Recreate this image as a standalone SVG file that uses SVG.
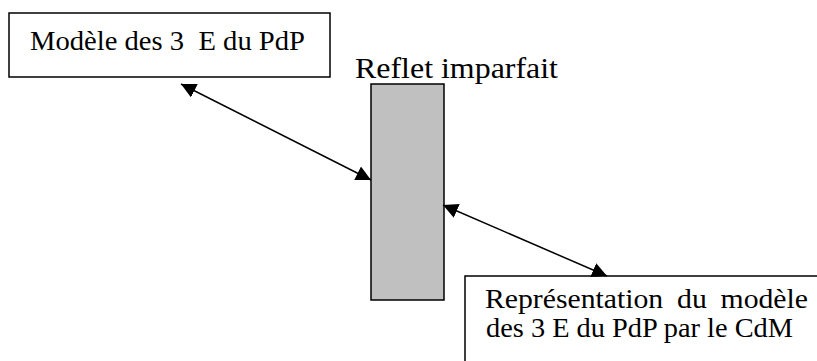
<svg xmlns="http://www.w3.org/2000/svg" width="817" height="361" viewBox="0 0 817 361">
<style>
.box{fill:#fff;stroke:#000;stroke-width:1.5}
.mirror{fill:#c0c0c0;stroke:#000;stroke-width:1.5}
.t{font-family:'Liberation Serif','Times New Roman',serif;fill:#000}
.c{stroke:#000;stroke-width:1.5;fill:none}
</style>
<defs>
<marker id="ah" viewBox="0 0 10 10" refX="10" refY="5" markerWidth="15" markerHeight="15" markerUnits="userSpaceOnUse" orient="auto-start-reverse">
<path d="M0,0 L10,5 L0,10 Z" fill="#000"/>
</marker>
</defs>
<g id="node-modele">
<rect class="box" x="9" y="13" width="321" height="64"/>
<text class="t" x="30" y="50" font-size="28" textLength="275" lengthAdjust="spacingAndGlyphs" xml:space="preserve">Modèle des 3  E du PdP</text>
</g>
<g id="node-reflet">
<rect class="mirror" x="371" y="84" width="73" height="216"/>
<text class="t" x="355" y="78" font-size="30" textLength="203" lengthAdjust="spacingAndGlyphs">Reflet imparfait</text>
</g>
<g id="node-representation">
<rect class="box" x="465" y="276" width="360" height="100"/>
<text class="t" x="485" y="308" font-size="28" word-spacing="6" textLength="323" lengthAdjust="spacingAndGlyphs">Représentation du modèle</text>
<text class="t" x="486" y="337" font-size="28" textLength="307" lengthAdjust="spacingAndGlyphs">des 3 E du PdP par le CdM</text>
</g>
<g id="connectors">
<line class="c" x1="181" y1="84" x2="371" y2="180" marker-start="url(#ah)" marker-end="url(#ah)"/>
<line class="c" x1="443" y1="205" x2="607" y2="276" marker-start="url(#ah)" marker-end="url(#ah)"/>
</g>
</svg>
